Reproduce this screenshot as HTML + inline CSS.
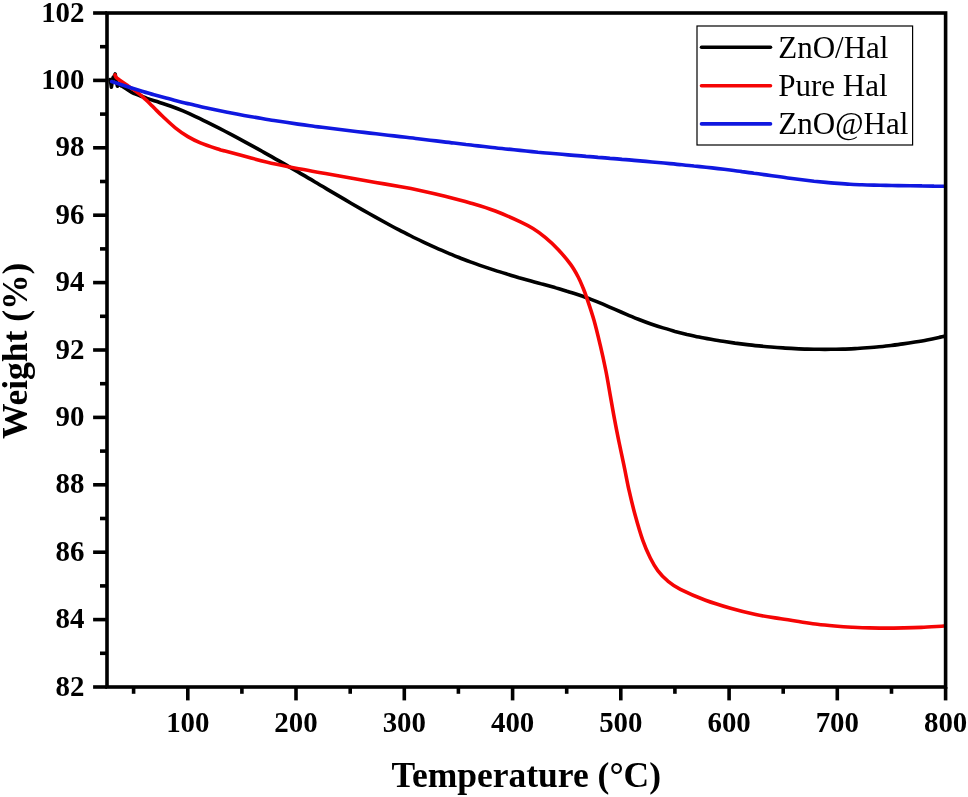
<!DOCTYPE html>
<html><head><meta charset="utf-8"><title>TGA curves</title>
<style>html,body{margin:0;padding:0;background:#fff}svg{display:block}text{font-family:"Liberation Serif",serif;fill:#000}.b{font-weight:bold}</style></head><body>
<svg width="968" height="797" viewBox="0 0 968 797">
<rect width="968" height="797" fill="#fff"/>
<g fill="none" stroke-width="3.6" stroke-linecap="round" stroke-linejoin="round">
<path stroke="#000" d="M110.0 79.5 L110.8 83.0 L111.4 87.2 L112.2 82.0 L113.0 77.5 L114.2 76.0 L115.2 74.0 L116.0 79.0 L117.4 86.2 L118.5 83.5 L121.0 85.5"/>
<path stroke="#000" d="M121.0 85.5 C122.7 86.6 129.1 90.9 131.4 92.3 C133.7 93.7 132.4 92.7 135.0 93.7 C137.6 94.7 143.0 97.0 147.0 98.4 C151.0 99.8 155.0 100.9 159.0 102.2 C163.0 103.5 167.0 104.7 171.0 106.2 C175.0 107.6 179.0 109.2 183.0 110.9 C187.0 112.6 191.0 114.4 195.0 116.3 C199.0 118.1 203.0 120.1 207.0 122.1 C211.0 124.1 215.0 126.1 219.0 128.1 C223.0 130.2 227.0 132.3 231.0 134.4 C235.0 136.5 239.0 138.6 243.0 140.8 C247.0 143.0 251.0 145.2 255.0 147.4 C259.0 149.6 263.0 151.8 267.0 154.1 C271.0 156.3 275.0 158.6 279.0 160.9 C283.0 163.2 287.0 165.5 291.0 167.9 C295.0 170.2 299.0 172.5 303.0 174.9 C307.0 177.2 311.0 179.6 315.0 182.0 C319.0 184.3 323.0 186.7 327.0 189.1 C331.0 191.4 335.0 193.8 339.0 196.1 C343.0 198.5 347.0 200.8 351.0 203.2 C355.0 205.5 359.0 207.8 363.0 210.1 C367.0 212.4 371.0 214.6 375.0 216.9 C379.0 219.1 383.0 221.3 387.0 223.5 C391.0 225.7 395.0 227.8 399.0 229.9 C403.0 232.0 407.0 234.0 411.0 236.0 C415.0 238.1 419.0 240.0 423.0 241.9 C427.0 243.8 431.0 245.7 435.0 247.4 C439.0 249.2 443.0 251.0 447.0 252.6 C451.0 254.3 455.0 255.9 459.0 257.5 C463.0 259.1 467.0 260.6 471.0 262.1 C475.0 263.6 479.0 265.0 483.0 266.4 C487.0 267.7 491.0 269.1 495.0 270.4 C499.0 271.7 503.0 272.9 507.0 274.1 C511.0 275.4 515.0 276.5 519.0 277.7 C523.0 278.8 527.0 279.9 531.0 281.0 C535.0 282.2 539.0 283.2 543.0 284.3 C547.0 285.4 551.0 286.5 555.0 287.6 C559.0 288.8 563.0 289.9 567.0 291.2 C571.0 292.4 575.0 293.7 579.0 295.0 C583.0 296.4 587.0 297.8 591.0 299.4 C595.0 300.9 599.0 302.5 603.0 304.2 C607.0 305.9 611.0 307.7 615.0 309.4 C619.0 311.1 623.0 312.9 627.0 314.6 C631.0 316.3 635.0 317.9 639.0 319.5 C643.0 321.1 647.0 322.6 651.0 324.0 C655.0 325.4 659.0 326.7 663.0 327.9 C667.0 329.1 671.0 330.3 675.0 331.4 C679.0 332.4 683.0 333.4 687.0 334.4 C691.0 335.3 695.0 336.2 699.0 337.0 C703.0 337.9 707.0 338.6 711.0 339.3 C715.0 340.0 719.0 340.7 723.0 341.3 C727.0 341.9 731.0 342.5 735.0 343.1 C739.0 343.6 743.0 344.1 747.0 344.6 C751.0 345.1 755.0 345.5 759.0 345.9 C763.0 346.3 767.0 346.7 771.0 347.0 C775.0 347.4 779.0 347.7 783.0 347.9 C787.0 348.2 791.0 348.4 795.0 348.6 C799.0 348.8 803.0 349.0 807.0 349.1 C811.0 349.2 815.0 349.3 819.0 349.3 C823.0 349.4 827.0 349.4 831.0 349.3 C835.0 349.3 839.0 349.2 843.0 349.1 C847.0 349.0 851.0 348.8 855.0 348.6 C859.0 348.4 863.0 348.1 867.0 347.8 C871.0 347.5 875.0 347.2 879.0 346.8 C883.0 346.4 887.0 346.0 891.0 345.5 C895.0 345.0 899.0 344.5 903.0 343.9 C907.0 343.4 911.0 342.8 915.0 342.1 C919.0 341.4 923.0 340.7 927.0 339.9 C931.0 339.2 936.2 338.1 939.0 337.5 C941.8 336.9 943.2 336.5 944.0 336.4"/>
<path stroke="#f50505" d="M115.0 74.8 C115.2 75.2 115.2 76.3 116.0 77.2 C116.8 78.1 118.4 79.1 120.1 80.4 C121.8 81.7 124.3 83.4 126.4 84.8 C128.5 86.2 130.6 87.5 132.7 89.0 C134.8 90.5 136.8 92.0 138.9 93.7 C141.0 95.4 143.3 97.5 145.2 99.2 C147.1 100.9 148.6 102.3 150.2 103.9 C151.8 105.5 152.9 106.7 155.0 108.8 C157.1 110.9 159.4 113.3 162.8 116.5 C166.2 119.7 171.1 124.5 175.3 127.8 C179.5 131.2 183.7 134.1 187.9 136.6 C192.1 139.1 195.1 140.6 200.4 142.8 C205.8 145.0 215.9 148.3 220.0 149.7 C224.1 151.1 220.1 149.7 225.1 151.0 C230.1 152.3 241.8 155.6 250.2 157.8 C258.6 160.0 266.9 162.2 275.3 164.1 C283.7 166.0 292.0 167.5 300.4 169.1 C308.8 170.7 317.1 172.1 325.5 173.6 C333.9 175.1 342.2 176.4 350.6 177.9 C359.0 179.4 367.3 180.9 375.7 182.4 C384.1 183.9 393.5 185.4 400.9 186.7 C408.3 188.0 412.6 188.8 420.0 190.4 C427.4 192.0 436.7 194.1 445.1 196.2 C453.5 198.3 461.8 200.4 470.2 202.9 C478.6 205.4 486.9 207.8 495.3 211.0 C503.7 214.2 514.1 218.9 520.4 221.8 C526.7 224.7 528.8 225.9 533.0 228.5 C537.2 231.1 541.3 234.1 545.5 237.6 C549.7 241.1 553.9 244.9 558.1 249.4 C562.3 253.9 567.2 259.8 570.6 264.4 C574.0 269.0 576.1 273.0 578.2 277.0 C580.3 281.0 581.7 284.7 583.2 288.3 C584.7 291.9 585.2 293.2 587.0 298.5 C588.8 303.8 591.8 312.5 594.0 320.3 C596.2 328.1 598.3 337.0 600.3 345.4 C602.3 353.8 604.1 362.1 605.8 370.5 C607.5 378.9 608.8 387.2 610.3 395.6 C611.8 404.0 613.3 413.0 614.8 420.7 C616.2 428.4 617.5 434.6 619.0 442.0 C620.5 449.4 622.2 457.1 623.9 465.1 C625.6 473.1 627.1 481.8 629.0 490.2 C630.9 498.6 632.9 506.9 635.2 515.3 C637.5 523.7 640.3 533.3 642.8 540.4 C645.3 547.5 647.8 553.0 650.3 558.0 C652.8 563.0 654.9 566.8 657.8 570.6 C660.7 574.5 664.1 578.0 667.9 581.1 C671.7 584.2 674.1 586.2 680.4 589.4 C686.7 592.6 697.1 597.1 705.5 600.2 C713.9 603.3 722.2 605.8 730.6 608.2 C739.0 610.6 747.3 612.7 755.7 614.5 C764.1 616.3 773.5 617.6 780.9 618.8 C788.3 620.0 793.9 620.8 800.0 621.7 C806.1 622.6 811.6 623.6 817.4 624.3 C823.2 625.0 828.9 625.5 834.7 626.0 C840.5 626.5 846.3 626.9 852.1 627.2 C857.9 627.5 863.6 627.8 869.4 627.9 C875.2 628.0 881.0 628.1 886.8 628.1 C892.6 628.1 898.3 628.0 904.1 627.9 C909.9 627.8 914.9 627.7 921.5 627.4 C928.1 627.1 940.2 626.2 944.0 626.0"/>
<path stroke="#1018e0" d="M111.7 81.6 C113.1 82.0 117.0 83.2 120.0 84.2 C123.0 85.2 126.3 86.3 130.0 87.5 C133.7 88.7 138.0 90.0 142.0 91.3 C146.0 92.5 150.0 93.7 154.0 94.8 C158.0 95.9 162.0 97.0 166.0 98.1 C170.0 99.2 174.0 100.2 178.0 101.2 C182.0 102.2 186.0 103.2 190.0 104.1 C194.0 105.1 198.0 106.0 202.0 106.9 C206.0 107.8 210.0 108.6 214.0 109.5 C218.0 110.3 222.0 111.1 226.0 111.9 C230.0 112.7 234.0 113.5 238.0 114.3 C242.0 115.0 246.0 115.8 250.0 116.5 C254.0 117.2 258.0 117.9 262.0 118.5 C266.0 119.2 270.0 119.9 274.0 120.5 C278.0 121.1 282.0 121.7 286.0 122.3 C290.0 122.9 294.0 123.5 298.0 124.1 C302.0 124.6 306.0 125.2 310.0 125.7 C314.0 126.3 318.0 126.8 322.0 127.3 C326.0 127.8 330.0 128.3 334.0 128.8 C338.0 129.3 342.0 129.8 346.0 130.3 C350.0 130.8 354.0 131.2 358.0 131.7 C362.0 132.2 366.0 132.6 370.0 133.1 C374.0 133.6 378.0 134.0 382.0 134.5 C386.0 135.0 390.0 135.4 394.0 135.9 C398.0 136.4 402.0 136.8 406.0 137.3 C410.0 137.8 414.0 138.3 418.0 138.7 C422.0 139.2 426.0 139.7 430.0 140.2 C434.0 140.7 438.0 141.1 442.0 141.6 C446.0 142.1 450.0 142.6 454.0 143.0 C458.0 143.5 462.0 144.0 466.0 144.5 C470.0 144.9 474.0 145.4 478.0 145.9 C482.0 146.3 486.0 146.8 490.0 147.2 C494.0 147.7 498.0 148.1 502.0 148.5 C506.0 149.0 510.0 149.4 514.0 149.8 C518.0 150.2 522.0 150.6 526.0 151.0 C530.0 151.4 534.0 151.8 538.0 152.2 C542.0 152.5 546.0 152.9 550.0 153.3 C554.0 153.6 558.0 154.0 562.0 154.3 C566.0 154.7 570.0 155.0 574.0 155.4 C578.0 155.7 582.0 156.0 586.0 156.4 C590.0 156.7 594.0 157.0 598.0 157.4 C602.0 157.7 606.0 158.0 610.0 158.4 C614.0 158.7 618.0 159.0 622.0 159.4 C626.0 159.7 630.0 160.0 634.0 160.4 C638.0 160.7 642.0 161.1 646.0 161.4 C650.0 161.8 654.0 162.1 658.0 162.5 C662.0 162.9 666.0 163.2 670.0 163.6 C674.0 164.0 678.0 164.4 682.0 164.7 C686.0 165.1 690.0 165.5 694.0 166.0 C698.0 166.4 702.0 166.8 706.0 167.2 C710.0 167.7 714.0 168.1 718.0 168.6 C722.0 169.1 726.0 169.5 730.0 170.0 C734.0 170.5 738.0 171.0 742.0 171.6 C746.0 172.1 750.0 172.6 754.0 173.2 C758.0 173.7 762.0 174.3 766.0 174.9 C770.0 175.4 774.0 176.0 778.0 176.5 C782.0 177.1 786.0 177.7 790.0 178.2 C794.0 178.7 798.0 179.2 802.0 179.7 C806.0 180.2 810.0 180.7 814.0 181.2 C818.0 181.6 822.0 182.0 826.0 182.4 C830.0 182.8 834.0 183.1 838.0 183.4 C842.0 183.7 846.0 184.0 850.0 184.2 C854.0 184.4 858.0 184.6 862.0 184.7 C866.0 184.9 870.0 185.0 874.0 185.1 C878.0 185.2 882.0 185.3 886.0 185.4 C890.0 185.5 894.0 185.5 898.0 185.6 C902.0 185.6 906.0 185.6 910.0 185.7 C914.0 185.7 918.0 185.8 922.0 185.9 C926.0 185.9 930.3 186.0 934.0 186.1 C937.7 186.1 942.3 186.3 944.0 186.3"/>
</g>
<g stroke="#000" stroke-width="3.6" fill="none" stroke-linecap="butt">
<rect x="107.0" y="13.0" width="838.6" height="674.0"/>
<line x1="93.1" y1="687.0" x2="107.0" y2="687.0"/>
<line x1="100.0" y1="653.3" x2="107.0" y2="653.3"/>
<line x1="93.1" y1="619.6" x2="107.0" y2="619.6"/>
<line x1="100.0" y1="585.9" x2="107.0" y2="585.9"/>
<line x1="93.1" y1="552.2" x2="107.0" y2="552.2"/>
<line x1="100.0" y1="518.5" x2="107.0" y2="518.5"/>
<line x1="93.1" y1="484.8" x2="107.0" y2="484.8"/>
<line x1="100.0" y1="451.1" x2="107.0" y2="451.1"/>
<line x1="93.1" y1="417.4" x2="107.0" y2="417.4"/>
<line x1="100.0" y1="383.7" x2="107.0" y2="383.7"/>
<line x1="93.1" y1="350.0" x2="107.0" y2="350.0"/>
<line x1="100.0" y1="316.3" x2="107.0" y2="316.3"/>
<line x1="93.1" y1="282.6" x2="107.0" y2="282.6"/>
<line x1="100.0" y1="248.9" x2="107.0" y2="248.9"/>
<line x1="93.1" y1="215.2" x2="107.0" y2="215.2"/>
<line x1="100.0" y1="181.5" x2="107.0" y2="181.5"/>
<line x1="93.1" y1="147.8" x2="107.0" y2="147.8"/>
<line x1="100.0" y1="114.1" x2="107.0" y2="114.1"/>
<line x1="93.1" y1="80.4" x2="107.0" y2="80.4"/>
<line x1="100.0" y1="46.7" x2="107.0" y2="46.7"/>
<line x1="93.1" y1="13.0" x2="107.0" y2="13.0"/>
<line x1="133.6" y1="687.0" x2="133.6" y2="693.8"/>
<line x1="187.8" y1="687.0" x2="187.8" y2="700.4"/>
<line x1="241.9" y1="687.0" x2="241.9" y2="693.8"/>
<line x1="296.0" y1="687.0" x2="296.0" y2="700.4"/>
<line x1="350.2" y1="687.0" x2="350.2" y2="693.8"/>
<line x1="404.3" y1="687.0" x2="404.3" y2="700.4"/>
<line x1="458.4" y1="687.0" x2="458.4" y2="693.8"/>
<line x1="512.6" y1="687.0" x2="512.6" y2="700.4"/>
<line x1="566.7" y1="687.0" x2="566.7" y2="693.8"/>
<line x1="620.8" y1="687.0" x2="620.8" y2="700.4"/>
<line x1="674.9" y1="687.0" x2="674.9" y2="693.8"/>
<line x1="729.1" y1="687.0" x2="729.1" y2="700.4"/>
<line x1="783.2" y1="687.0" x2="783.2" y2="693.8"/>
<line x1="837.3" y1="687.0" x2="837.3" y2="700.4"/>
<line x1="891.5" y1="687.0" x2="891.5" y2="693.8"/>
<line x1="945.6" y1="687.0" x2="945.6" y2="700.4"/>
</g>
<g class="b" font-size="28" text-anchor="end">
<text font-size="29.8" text-anchor="end" transform="translate(84.5 695.5) scale(0.970 1)">82</text>
<text font-size="29.8" text-anchor="end" transform="translate(84.5 628.1) scale(0.970 1)">84</text>
<text font-size="29.8" text-anchor="end" transform="translate(84.5 560.7) scale(0.970 1)">86</text>
<text font-size="29.8" text-anchor="end" transform="translate(84.5 493.3) scale(0.970 1)">88</text>
<text font-size="29.8" text-anchor="end" transform="translate(84.5 425.9) scale(0.970 1)">90</text>
<text font-size="29.8" text-anchor="end" transform="translate(84.5 358.5) scale(0.970 1)">92</text>
<text font-size="29.8" text-anchor="end" transform="translate(84.5 291.1) scale(0.970 1)">94</text>
<text font-size="29.8" text-anchor="end" transform="translate(84.5 223.7) scale(0.970 1)">96</text>
<text font-size="29.8" text-anchor="end" transform="translate(84.5 156.3) scale(0.970 1)">98</text>
<text font-size="29.8" text-anchor="end" transform="translate(84.5 88.9) scale(0.970 1)">100</text>
<text font-size="29.8" text-anchor="end" transform="translate(84.5 21.5) scale(0.970 1)">102</text>
</g>
<g class="b" font-size="28" text-anchor="middle">
<text font-size="29.8" text-anchor="middle" transform="translate(187.8 731.9) scale(0.970 1)">100</text>
<text font-size="29.8" text-anchor="middle" transform="translate(296.0 731.9) scale(0.970 1)">200</text>
<text font-size="29.8" text-anchor="middle" transform="translate(404.3 731.9) scale(0.970 1)">300</text>
<text font-size="29.8" text-anchor="middle" transform="translate(512.6 731.9) scale(0.970 1)">400</text>
<text font-size="29.8" text-anchor="middle" transform="translate(620.8 731.9) scale(0.970 1)">500</text>
<text font-size="29.8" text-anchor="middle" transform="translate(729.1 731.9) scale(0.970 1)">600</text>
<text font-size="29.8" text-anchor="middle" transform="translate(837.3 731.9) scale(0.970 1)">700</text>
<text font-size="29.8" text-anchor="middle" transform="translate(945.6 731.9) scale(0.970 1)">800</text>
</g>
<text class="b" font-size="35.5" text-anchor="middle" transform="translate(526.3 786.9) scale(1.000 1)">Temperature (°C)</text>
<text class="b" font-size="35.5" text-anchor="middle" transform="translate(27.0 350.8) rotate(-90) scale(1.000 1)">Weight (%)</text>
<rect x="697" y="26" width="215.6" height="119" fill="#fff" stroke="#000" stroke-width="1.2"/>
<g stroke-width="3.6" stroke-linecap="round">
<line x1="701.5" y1="47.2" x2="770.5" y2="47.2" stroke="#000"/>
<line x1="701.5" y1="85.7" x2="770.5" y2="85.7" stroke="#f50505"/>
<line x1="701.5" y1="123.9" x2="770.5" y2="123.9" stroke="#1018e0"/>
</g>
<g font-size="30">
<text font-size="31.6" text-anchor="start" transform="translate(778.2 57.7) scale(0.982 1)">ZnO/Hal</text>
<text font-size="31.6" text-anchor="start" transform="translate(778.2 96.0) scale(0.982 1)">Pure Hal</text>
<text font-size="31.6" text-anchor="start" transform="translate(778.2 134.0) scale(0.982 1)">ZnO@Hal</text>
</g>
</svg></body></html>
